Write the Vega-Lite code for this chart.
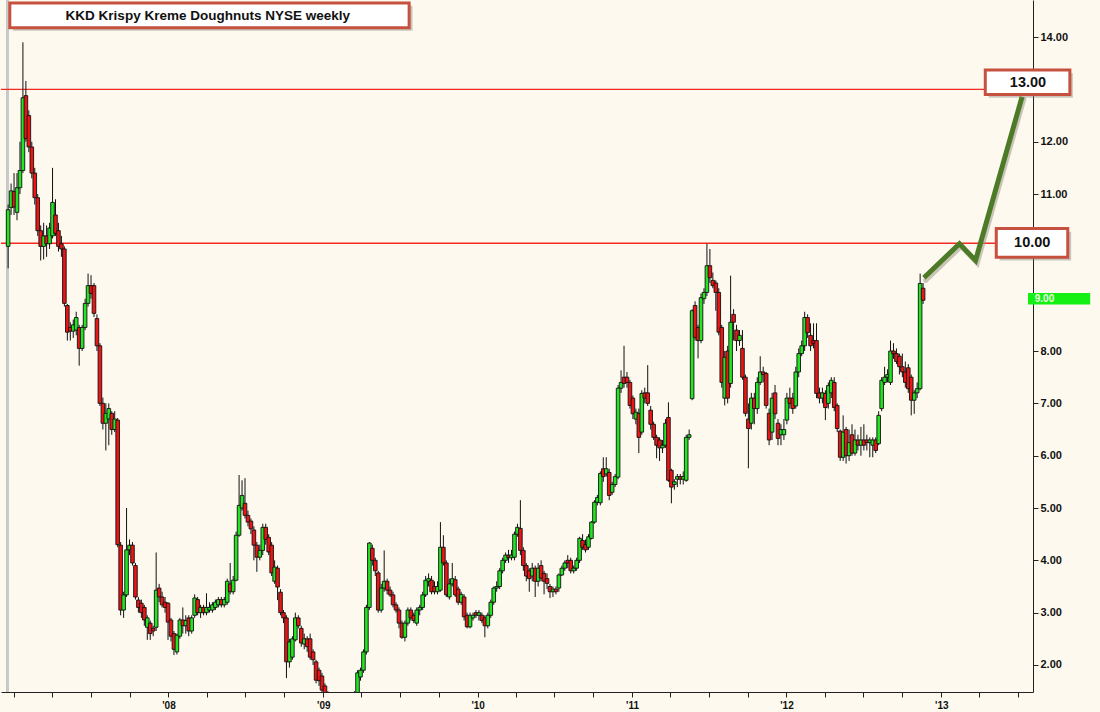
{
"$schema": "https://vega.github.io/schema/vega-lite/v6.json",
"width": 1032, "height": 692,
"autosize": {"type": "none"},
"padding": {"left": 1, "top": 0, "right": 67, "bottom": 20},
"background": "#fdf9ee",
"config": {"view": {"stroke": null}, "font": "Liberation Sans"},
"datasets": {
"k": [
{"d":"2006-12-18","o":10.0,"h":10.8,"l":9.58,"c":10.7},
{"d":"2006-12-25","o":10.74,"h":11.2,"l":10.6,"c":11.06},
{"d":"2007-01-01","o":11.05,"h":11.4,"l":10.6,"c":10.75},
{"d":"2007-01-08","o":10.65,"h":11.4,"l":10.5,"c":11.12},
{"d":"2007-01-15","o":11.12,"h":12.0,"l":11.0,"c":11.45},
{"d":"2007-01-22","o":11.45,"h":13.9,"l":11.4,"c":12.84},
{"d":"2007-01-29","o":12.88,"h":13.16,"l":12.0,"c":12.06},
{"d":"2007-02-05","o":12.5,"h":12.6,"l":11.8,"c":11.9},
{"d":"2007-02-12","o":11.9,"h":12.0,"l":11.3,"c":11.4},
{"d":"2007-02-19","o":11.4,"h":11.5,"l":10.8,"c":10.93},
{"d":"2007-02-26","o":10.93,"h":11.0,"l":10.2,"c":10.3},
{"d":"2007-03-05","o":10.3,"h":10.4,"l":9.73,"c":10.0},
{"d":"2007-03-12","o":10.0,"h":10.45,"l":9.75,"c":10.2},
{"d":"2007-03-19","o":10.2,"h":10.4,"l":9.8,"c":10.05},
{"d":"2007-03-26","o":10.05,"h":10.45,"l":9.95,"c":10.35},
{"d":"2007-04-02","o":10.2,"h":11.5,"l":10.15,"c":10.84},
{"d":"2007-04-09","o":10.6,"h":10.9,"l":10.2,"c":10.25},
{"d":"2007-04-16","o":10.3,"h":10.45,"l":9.9,"c":10.0},
{"d":"2007-04-23","o":10.05,"h":10.2,"l":9.8,"c":9.95},
{"d":"2007-04-30","o":9.95,"h":10.0,"l":8.85,"c":8.91},
{"d":"2007-05-07","o":8.87,"h":8.9,"l":8.2,"c":8.36},
{"d":"2007-05-14","o":8.45,"h":8.55,"l":8.2,"c":8.38},
{"d":"2007-05-21","o":8.38,"h":8.6,"l":8.25,"c":8.5},
{"d":"2007-05-28","o":8.4,"h":8.75,"l":8.3,"c":8.64},
{"d":"2007-06-04","o":8.45,"h":8.5,"l":7.72,"c":8.05},
{"d":"2007-06-11","o":8.05,"h":8.5,"l":8.0,"c":8.45},
{"d":"2007-06-18","o":8.45,"h":9.0,"l":8.4,"c":8.91},
{"d":"2007-06-25","o":8.91,"h":9.48,"l":8.85,"c":9.25},
{"d":"2007-07-02","o":9.25,"h":9.45,"l":9.0,"c":9.1},
{"d":"2007-07-09","o":9.25,"h":9.3,"l":8.65,"c":8.72},
{"d":"2007-07-16","o":8.62,"h":8.7,"l":8.0,"c":8.1},
{"d":"2007-07-23","o":8.1,"h":8.15,"l":6.95,"c":7.0},
{"d":"2007-07-30","o":7.0,"h":7.11,"l":6.5,"c":6.62},
{"d":"2007-08-06","o":6.62,"h":7.0,"l":6.1,"c":6.81},
{"d":"2007-08-13","o":6.7,"h":7.0,"l":6.2,"c":6.9},
{"d":"2007-08-20","o":6.81,"h":6.85,"l":6.4,"c":6.5},
{"d":"2007-08-27","o":6.5,"h":6.85,"l":6.45,"c":6.7},
{"d":"2007-09-03","o":6.68,"h":6.72,"l":4.25,"c":4.3},
{"d":"2007-09-10","o":4.29,"h":4.35,"l":2.95,"c":3.05},
{"d":"2007-09-17","o":3.05,"h":3.4,"l":2.9,"c":3.34},
{"d":"2007-09-24","o":3.34,"h":5.0,"l":3.3,"c":4.2},
{"d":"2007-10-01","o":4.2,"h":4.4,"l":4.1,"c":4.29},
{"d":"2007-10-08","o":4.29,"h":4.35,"l":3.9,"c":3.95},
{"d":"2007-10-15","o":3.9,"h":3.95,"l":3.25,"c":3.3},
{"d":"2007-10-22","o":3.24,"h":3.3,"l":3.0,"c":3.1},
{"d":"2007-10-29","o":3.18,"h":3.25,"l":2.9,"c":3.0},
{"d":"2007-11-05","o":3.1,"h":3.15,"l":2.75,"c":2.86},
{"d":"2007-11-12","o":2.72,"h":2.95,"l":2.48,"c":2.9},
{"d":"2007-11-19","o":2.8,"h":2.85,"l":2.48,"c":2.6},
{"d":"2007-11-26","o":2.7,"h":2.75,"l":2.55,"c":2.65},
{"d":"2007-12-03","o":2.72,"h":4.15,"l":2.65,"c":3.43},
{"d":"2007-12-10","o":3.47,"h":3.55,"l":3.2,"c":3.3},
{"d":"2007-12-17","o":3.3,"h":3.4,"l":3.1,"c":3.15},
{"d":"2007-12-24","o":3.2,"h":3.3,"l":3.0,"c":3.1},
{"d":"2007-12-31","o":3.18,"h":3.2,"l":2.48,"c":2.82},
{"d":"2008-01-07","o":2.86,"h":2.9,"l":2.45,"c":2.55},
{"d":"2008-01-14","o":2.6,"h":2.65,"l":2.19,"c":2.3},
{"d":"2008-01-21","o":2.25,"h":2.6,"l":2.2,"c":2.57},
{"d":"2008-01-28","o":2.55,"h":2.9,"l":2.5,"c":2.86},
{"d":"2008-02-04","o":2.86,"h":3.1,"l":2.6,"c":2.75},
{"d":"2008-02-11","o":2.75,"h":2.95,"l":2.6,"c":2.85},
{"d":"2008-02-18","o":2.9,"h":2.95,"l":2.55,"c":2.65},
{"d":"2008-02-25","o":2.65,"h":2.95,"l":2.6,"c":2.9},
{"d":"2008-03-03","o":2.95,"h":3.35,"l":2.9,"c":3.28},
{"d":"2008-03-10","o":3.25,"h":3.3,"l":2.95,"c":3.0},
{"d":"2008-03-17","o":3.0,"h":3.15,"l":2.9,"c":3.1},
{"d":"2008-03-24","o":3.1,"h":3.15,"l":2.95,"c":3.0},
{"d":"2008-03-31","o":3.0,"h":3.37,"l":2.95,"c":3.1},
{"d":"2008-04-07","o":3.05,"h":3.2,"l":3.0,"c":3.1},
{"d":"2008-04-14","o":3.05,"h":3.2,"l":3.0,"c":3.15},
{"d":"2008-04-21","o":3.1,"h":3.25,"l":3.05,"c":3.2},
{"d":"2008-04-28","o":3.15,"h":3.3,"l":3.1,"c":3.25},
{"d":"2008-05-05","o":3.25,"h":3.3,"l":3.1,"c":3.15},
{"d":"2008-05-12","o":3.15,"h":3.3,"l":3.1,"c":3.25},
{"d":"2008-05-19","o":3.2,"h":3.65,"l":3.15,"c":3.6},
{"d":"2008-05-26","o":3.55,"h":3.95,"l":3.35,"c":3.4},
{"d":"2008-06-02","o":3.4,"h":3.7,"l":3.35,"c":3.62},
{"d":"2008-06-09","o":3.62,"h":4.55,"l":3.6,"c":4.48},
{"d":"2008-06-16","o":4.48,"h":5.63,"l":4.45,"c":5.05},
{"d":"2008-06-23","o":5.0,"h":5.53,"l":4.95,"c":5.24},
{"d":"2008-06-30","o":5.09,"h":5.57,"l":4.8,"c":4.86},
{"d":"2008-07-07","o":4.86,"h":4.95,"l":4.65,"c":4.73},
{"d":"2008-07-14","o":4.75,"h":4.8,"l":4.5,"c":4.6},
{"d":"2008-07-21","o":4.58,"h":4.65,"l":4.0,"c":4.29},
{"d":"2008-07-28","o":4.29,"h":4.35,"l":3.78,"c":4.06},
{"d":"2008-08-04","o":4.06,"h":4.3,"l":4.0,"c":4.19},
{"d":"2008-08-11","o":4.19,"h":4.7,"l":4.1,"c":4.63},
{"d":"2008-08-18","o":4.63,"h":4.7,"l":4.3,"c":4.4},
{"d":"2008-08-25","o":4.44,"h":4.5,"l":4.1,"c":4.16},
{"d":"2008-09-01","o":4.29,"h":4.35,"l":3.7,"c":3.76},
{"d":"2008-09-08","o":3.6,"h":4.0,"l":3.55,"c":3.87},
{"d":"2008-09-15","o":3.85,"h":3.9,"l":3.24,"c":3.49},
{"d":"2008-09-22","o":3.39,"h":3.45,"l":2.95,"c":3.0},
{"d":"2008-09-29","o":3.0,"h":3.05,"l":2.8,"c":2.9},
{"d":"2008-10-06","o":2.9,"h":2.95,"l":1.75,"c":2.06},
{"d":"2008-10-13","o":2.06,"h":2.5,"l":1.95,"c":2.44},
{"d":"2008-10-20","o":2.15,"h":2.55,"l":2.1,"c":2.5},
{"d":"2008-10-27","o":2.48,"h":3.0,"l":2.45,"c":2.9},
{"d":"2008-11-03","o":2.9,"h":2.95,"l":2.7,"c":2.75},
{"d":"2008-11-10","o":2.7,"h":2.75,"l":2.35,"c":2.42},
{"d":"2008-11-17","o":2.4,"h":2.6,"l":2.3,"c":2.5},
{"d":"2008-11-24","o":2.5,"h":2.55,"l":2.25,"c":2.35},
{"d":"2008-12-01","o":2.5,"h":2.6,"l":2.1,"c":2.15},
{"d":"2008-12-08","o":2.25,"h":2.3,"l":2.0,"c":2.1},
{"d":"2008-12-15","o":2.06,"h":2.1,"l":1.65,"c":1.71},
{"d":"2008-12-22","o":1.9,"h":1.95,"l":1.6,"c":1.7},
{"d":"2008-12-29","o":1.79,"h":1.85,"l":1.45,"c":1.52},
{"d":"2009-01-05","o":1.6,"h":1.65,"l":1.4,"c":1.45},
{"d":"2009-01-12","o":1.45,"h":1.5,"l":1.25,"c":1.3},
{"d":"2009-01-19","o":1.3,"h":1.4,"l":1.2,"c":1.25},
{"d":"2009-01-26","o":1.25,"h":1.35,"l":1.2,"c":1.3},
{"d":"2009-02-02","o":1.3,"h":1.35,"l":1.15,"c":1.2},
{"d":"2009-02-09","o":1.2,"h":1.3,"l":1.15,"c":1.25},
{"d":"2009-02-16","o":1.25,"h":1.3,"l":1.1,"c":1.15},
{"d":"2009-02-23","o":1.15,"h":1.2,"l":1.05,"c":1.1},
{"d":"2009-03-02","o":1.1,"h":1.2,"l":1.05,"c":1.15},
{"d":"2009-03-09","o":1.15,"h":1.35,"l":1.1,"c":1.3},
{"d":"2009-03-16","o":1.3,"h":1.5,"l":1.25,"c":1.45},
{"d":"2009-03-23","o":1.45,"h":1.9,"l":1.4,"c":1.85},
{"d":"2009-03-30","o":1.77,"h":1.95,"l":1.7,"c":1.9},
{"d":"2009-04-06","o":1.9,"h":2.3,"l":1.85,"c":2.25},
{"d":"2009-04-13","o":2.25,"h":3.15,"l":2.2,"c":3.1},
{"d":"2009-04-20","o":3.1,"h":4.35,"l":3.05,"c":4.33},
{"d":"2009-04-27","o":4.23,"h":4.3,"l":3.9,"c":4.0},
{"d":"2009-05-04","o":4.0,"h":4.05,"l":3.7,"c":3.8},
{"d":"2009-05-11","o":3.76,"h":3.8,"l":3.0,"c":3.05},
{"d":"2009-05-18","o":3.05,"h":3.55,"l":3.0,"c":3.47},
{"d":"2009-05-25","o":3.47,"h":4.19,"l":3.4,"c":3.6},
{"d":"2009-06-01","o":3.6,"h":3.65,"l":3.35,"c":3.43},
{"d":"2009-06-08","o":3.43,"h":3.5,"l":3.3,"c":3.34},
{"d":"2009-06-15","o":3.34,"h":3.4,"l":3.1,"c":3.15},
{"d":"2009-06-22","o":3.15,"h":3.2,"l":3.0,"c":3.05},
{"d":"2009-06-29","o":3.05,"h":3.1,"l":2.7,"c":2.8},
{"d":"2009-07-06","o":2.8,"h":2.85,"l":2.5,"c":2.53},
{"d":"2009-07-13","o":2.53,"h":2.85,"l":2.45,"c":2.8},
{"d":"2009-07-20","o":2.8,"h":3.1,"l":2.75,"c":3.05},
{"d":"2009-07-27","o":3.05,"h":3.1,"l":2.85,"c":2.9},
{"d":"2009-08-03","o":2.95,"h":3.0,"l":2.8,"c":2.85},
{"d":"2009-08-10","o":2.8,"h":3.1,"l":2.75,"c":3.05},
{"d":"2009-08-17","o":3.05,"h":3.15,"l":2.95,"c":3.1},
{"d":"2009-08-24","o":3.1,"h":3.4,"l":3.05,"c":3.34},
{"d":"2009-08-31","o":3.34,"h":3.7,"l":3.3,"c":3.62},
{"d":"2009-09-07","o":3.6,"h":3.75,"l":3.5,"c":3.65},
{"d":"2009-09-14","o":3.62,"h":3.7,"l":3.35,"c":3.4},
{"d":"2009-09-21","o":3.5,"h":3.6,"l":3.35,"c":3.4},
{"d":"2009-09-28","o":3.4,"h":3.6,"l":3.35,"c":3.5},
{"d":"2009-10-05","o":3.43,"h":4.73,"l":3.4,"c":4.25},
{"d":"2009-10-12","o":4.25,"h":4.48,"l":3.9,"c":3.95},
{"d":"2009-10-19","o":3.95,"h":4.0,"l":3.3,"c":3.34},
{"d":"2009-10-26","o":3.3,"h":3.65,"l":3.25,"c":3.55},
{"d":"2009-11-02","o":3.55,"h":3.95,"l":3.5,"c":3.65},
{"d":"2009-11-09","o":3.63,"h":3.7,"l":3.3,"c":3.34},
{"d":"2009-11-16","o":3.45,"h":3.5,"l":3.15,"c":3.2},
{"d":"2009-11-23","o":3.2,"h":3.4,"l":3.15,"c":3.35},
{"d":"2009-11-30","o":3.3,"h":3.35,"l":2.85,"c":2.92},
{"d":"2009-12-07","o":2.95,"h":3.0,"l":2.7,"c":2.73},
{"d":"2009-12-14","o":2.73,"h":3.0,"l":2.7,"c":2.95},
{"d":"2009-12-21","o":2.9,"h":3.0,"l":2.85,"c":2.95},
{"d":"2009-12-28","o":3.0,"h":3.05,"l":2.9,"c":2.95},
{"d":"2010-01-04","o":2.95,"h":3.05,"l":2.85,"c":3.0},
{"d":"2010-01-11","o":2.95,"h":3.0,"l":2.8,"c":2.85},
{"d":"2010-01-18","o":2.9,"h":2.95,"l":2.53,"c":2.75},
{"d":"2010-01-25","o":2.75,"h":3.0,"l":2.7,"c":2.95},
{"d":"2010-02-01","o":2.95,"h":3.25,"l":2.9,"c":3.2},
{"d":"2010-02-08","o":3.2,"h":3.5,"l":3.15,"c":3.47},
{"d":"2010-02-15","o":3.47,"h":3.6,"l":3.4,"c":3.5},
{"d":"2010-02-22","o":3.5,"h":3.85,"l":3.45,"c":3.8},
{"d":"2010-03-01","o":3.8,"h":4.05,"l":3.75,"c":4.0},
{"d":"2010-03-08","o":4.0,"h":4.15,"l":3.95,"c":4.1},
{"d":"2010-03-15","o":4.1,"h":4.2,"l":3.95,"c":4.05},
{"d":"2010-03-22","o":4.05,"h":4.2,"l":4.0,"c":4.1},
{"d":"2010-03-29","o":4.06,"h":4.55,"l":4.0,"c":4.5},
{"d":"2010-04-05","o":4.5,"h":4.7,"l":4.45,"c":4.63},
{"d":"2010-04-12","o":4.61,"h":5.15,"l":4.1,"c":4.19},
{"d":"2010-04-19","o":4.19,"h":4.25,"l":3.8,"c":3.9},
{"d":"2010-04-26","o":3.9,"h":3.95,"l":3.6,"c":3.7},
{"d":"2010-05-03","o":3.8,"h":3.85,"l":3.4,"c":3.65},
{"d":"2010-05-10","o":3.7,"h":3.95,"l":3.6,"c":3.85},
{"d":"2010-05-17","o":3.85,"h":3.9,"l":3.3,"c":3.6},
{"d":"2010-05-24","o":3.6,"h":3.95,"l":3.5,"c":3.85},
{"d":"2010-05-31","o":3.9,"h":4.0,"l":3.6,"c":3.66},
{"d":"2010-06-07","o":3.75,"h":3.8,"l":3.35,"c":3.6},
{"d":"2010-06-14","o":3.65,"h":3.75,"l":3.45,"c":3.56},
{"d":"2010-06-21","o":3.5,"h":3.55,"l":3.28,"c":3.4},
{"d":"2010-06-28","o":3.4,"h":3.5,"l":3.3,"c":3.45},
{"d":"2010-07-05","o":3.45,"h":3.5,"l":3.35,"c":3.4},
{"d":"2010-07-12","o":3.47,"h":3.75,"l":3.4,"c":3.72},
{"d":"2010-07-19","o":3.72,"h":3.9,"l":3.7,"c":3.85},
{"d":"2010-07-26","o":3.85,"h":4.0,"l":3.8,"c":3.95},
{"d":"2010-08-02","o":4.0,"h":4.1,"l":3.85,"c":3.95},
{"d":"2010-08-09","o":4.0,"h":4.05,"l":3.75,"c":3.8},
{"d":"2010-08-16","o":3.8,"h":3.9,"l":3.75,"c":3.85},
{"d":"2010-08-23","o":3.85,"h":4.05,"l":3.8,"c":4.0},
{"d":"2010-08-30","o":4.0,"h":4.45,"l":3.95,"c":4.42},
{"d":"2010-09-06","o":4.38,"h":4.5,"l":4.2,"c":4.25},
{"d":"2010-09-13","o":4.3,"h":4.4,"l":4.15,"c":4.2},
{"d":"2010-09-20","o":4.25,"h":4.5,"l":4.2,"c":4.45},
{"d":"2010-09-27","o":4.42,"h":4.75,"l":4.4,"c":4.73},
{"d":"2010-10-04","o":4.73,"h":5.15,"l":4.7,"c":5.11},
{"d":"2010-10-11","o":5.11,"h":5.25,"l":5.05,"c":5.2},
{"d":"2010-10-18","o":5.1,"h":5.7,"l":5.05,"c":5.66},
{"d":"2010-10-25","o":5.75,"h":5.97,"l":5.5,"c":5.6},
{"d":"2010-11-01","o":5.65,"h":5.97,"l":5.6,"c":5.75},
{"d":"2010-11-08","o":5.68,"h":5.75,"l":5.15,"c":5.24},
{"d":"2010-11-15","o":5.3,"h":5.5,"l":5.25,"c":5.45},
{"d":"2010-11-22","o":5.45,"h":5.65,"l":5.4,"c":5.6},
{"d":"2010-11-29","o":5.59,"h":7.35,"l":5.55,"c":7.29},
{"d":"2010-12-06","o":7.29,"h":7.63,"l":7.2,"c":7.4},
{"d":"2010-12-13","o":7.5,"h":8.1,"l":7.3,"c":7.38},
{"d":"2010-12-20","o":7.5,"h":7.6,"l":7.3,"c":7.4},
{"d":"2010-12-27","o":7.4,"h":7.45,"l":6.9,"c":6.96},
{"d":"2011-01-03","o":7.1,"h":7.15,"l":6.7,"c":6.8},
{"d":"2011-01-10","o":6.7,"h":6.9,"l":6.6,"c":6.83},
{"d":"2011-01-17","o":6.81,"h":6.9,"l":6.05,"c":6.35},
{"d":"2011-01-24","o":6.45,"h":7.25,"l":6.4,"c":7.19},
{"d":"2011-01-31","o":7.2,"h":7.3,"l":7.0,"c":7.1},
{"d":"2011-02-07","o":7.2,"h":7.73,"l":6.95,"c":7.0},
{"d":"2011-02-14","o":6.87,"h":6.95,"l":6.5,"c":6.6},
{"d":"2011-02-21","o":6.6,"h":6.65,"l":6.3,"c":6.35},
{"d":"2011-02-28","o":6.35,"h":6.4,"l":5.95,"c":6.2},
{"d":"2011-03-07","o":6.3,"h":6.35,"l":5.9,"c":6.15},
{"d":"2011-03-14","o":6.15,"h":6.3,"l":6.05,"c":6.2},
{"d":"2011-03-21","o":6.2,"h":6.7,"l":6.15,"c":6.62},
{"d":"2011-03-28","o":6.73,"h":7.02,"l":5.5,"c":5.53},
{"d":"2011-04-04","o":5.72,"h":5.75,"l":5.09,"c":5.4},
{"d":"2011-04-11","o":5.45,"h":5.55,"l":5.35,"c":5.5},
{"d":"2011-04-18","o":5.55,"h":5.65,"l":5.4,"c":5.6},
{"d":"2011-04-25","o":5.6,"h":5.65,"l":5.45,"c":5.55},
{"d":"2011-05-02","o":5.55,"h":5.7,"l":5.45,"c":5.6},
{"d":"2011-05-09","o":5.53,"h":6.4,"l":5.5,"c":6.35},
{"d":"2011-05-16","o":6.35,"h":6.5,"l":6.3,"c":6.4},
{"d":"2011-05-23","o":7.09,"h":8.8,"l":7.06,"c":8.77},
{"d":"2011-05-30","o":8.87,"h":8.95,"l":8.2,"c":8.26},
{"d":"2011-06-06","o":8.45,"h":8.5,"l":7.86,"c":8.2},
{"d":"2011-06-13","o":8.2,"h":9.1,"l":8.15,"c":9.02},
{"d":"2011-06-20","o":9.0,"h":9.2,"l":8.9,"c":9.12},
{"d":"2011-06-27","o":9.12,"h":10.05,"l":9.05,"c":9.63},
{"d":"2011-07-04","o":9.63,"h":9.95,"l":9.3,"c":9.4},
{"d":"2011-07-11","o":9.35,"h":9.5,"l":9.2,"c":9.25},
{"d":"2011-07-18","o":9.3,"h":9.35,"l":8.77,"c":9.12},
{"d":"2011-07-25","o":9.12,"h":9.2,"l":8.3,"c":8.36},
{"d":"2011-08-01","o":8.45,"h":8.5,"l":7.3,"c":7.4},
{"d":"2011-08-08","o":7.1,"h":8.0,"l":6.96,"c":7.88},
{"d":"2011-08-15","o":8.0,"h":8.1,"l":7.0,"c":7.1},
{"d":"2011-08-22","o":7.38,"h":9.44,"l":7.3,"c":8.55},
{"d":"2011-08-29","o":8.7,"h":8.8,"l":8.2,"c":8.55},
{"d":"2011-09-05","o":8.4,"h":8.5,"l":8.0,"c":8.2},
{"d":"2011-09-12","o":8.2,"h":8.4,"l":8.1,"c":8.3},
{"d":"2011-09-19","o":8.05,"h":8.4,"l":7.45,"c":7.5},
{"d":"2011-09-26","o":7.5,"h":7.55,"l":6.75,"c":6.81},
{"d":"2011-10-03","o":6.7,"h":7.0,"l":5.76,"c":6.52},
{"d":"2011-10-10","o":6.62,"h":7.2,"l":6.5,"c":7.1},
{"d":"2011-10-17","o":7.1,"h":7.2,"l":6.6,"c":6.9},
{"d":"2011-10-24","o":6.9,"h":7.5,"l":6.8,"c":7.4},
{"d":"2011-10-31","o":7.4,"h":7.9,"l":7.35,"c":7.6},
{"d":"2011-11-07","o":7.6,"h":7.7,"l":7.4,"c":7.55},
{"d":"2011-11-14","o":7.57,"h":7.6,"l":6.9,"c":6.96},
{"d":"2011-11-21","o":6.81,"h":6.9,"l":6.2,"c":6.3},
{"d":"2011-11-28","o":6.45,"h":7.2,"l":6.3,"c":7.1},
{"d":"2011-12-05","o":7.2,"h":7.35,"l":6.7,"c":6.8},
{"d":"2011-12-12","o":6.62,"h":6.7,"l":6.2,"c":6.33},
{"d":"2011-12-19","o":6.4,"h":6.6,"l":6.2,"c":6.5},
{"d":"2011-12-26","o":6.4,"h":6.7,"l":6.3,"c":6.5},
{"d":"2012-01-02","o":6.68,"h":7.2,"l":6.6,"c":7.1},
{"d":"2012-01-09","o":7.1,"h":7.3,"l":6.9,"c":7.0},
{"d":"2012-01-16","o":7.1,"h":7.2,"l":6.8,"c":6.9},
{"d":"2012-01-23","o":6.95,"h":7.7,"l":6.9,"c":7.6},
{"d":"2012-01-30","o":7.6,"h":8.05,"l":7.5,"c":7.95},
{"d":"2012-02-06","o":7.95,"h":8.2,"l":7.9,"c":8.1},
{"d":"2012-02-13","o":8.1,"h":8.75,"l":8.0,"c":8.64},
{"d":"2012-02-20","o":8.64,"h":8.7,"l":8.25,"c":8.35},
{"d":"2012-02-27","o":8.3,"h":8.53,"l":8.0,"c":8.1},
{"d":"2012-03-05","o":8.2,"h":8.53,"l":8.05,"c":8.15},
{"d":"2012-03-12","o":8.2,"h":8.53,"l":7.1,"c":7.19},
{"d":"2012-03-19","o":7.2,"h":7.3,"l":7.0,"c":7.1},
{"d":"2012-03-26","o":7.1,"h":7.3,"l":7.0,"c":7.2},
{"d":"2012-04-02","o":7.19,"h":7.25,"l":6.68,"c":6.92},
{"d":"2012-04-09","o":7.0,"h":7.4,"l":6.9,"c":7.34},
{"d":"2012-04-16","o":7.2,"h":7.5,"l":7.1,"c":7.44},
{"d":"2012-04-23","o":7.4,"h":7.5,"l":6.85,"c":6.92},
{"d":"2012-04-30","o":6.96,"h":7.0,"l":6.45,"c":6.52},
{"d":"2012-05-07","o":6.47,"h":6.5,"l":5.9,"c":5.97},
{"d":"2012-05-14","o":5.97,"h":6.77,"l":5.9,"c":6.45},
{"d":"2012-05-21","o":6.5,"h":6.55,"l":5.85,"c":6.0},
{"d":"2012-05-28","o":6.0,"h":6.5,"l":5.9,"c":6.25},
{"d":"2012-06-04","o":6.4,"h":6.6,"l":6.0,"c":6.05},
{"d":"2012-06-11","o":6.05,"h":6.5,"l":6.0,"c":6.3},
{"d":"2012-06-18","o":6.3,"h":6.4,"l":6.1,"c":6.2},
{"d":"2012-06-25","o":6.2,"h":6.55,"l":6.0,"c":6.3},
{"d":"2012-07-02","o":6.3,"h":6.6,"l":6.1,"c":6.2},
{"d":"2012-07-09","o":6.3,"h":6.4,"l":6.1,"c":6.25},
{"d":"2012-07-16","o":6.25,"h":6.35,"l":5.97,"c":6.3},
{"d":"2012-07-23","o":6.2,"h":6.35,"l":5.97,"c":6.3},
{"d":"2012-07-30","o":6.3,"h":6.35,"l":6.05,"c":6.1},
{"d":"2012-08-06","o":6.23,"h":6.85,"l":6.2,"c":6.77},
{"d":"2012-08-13","o":6.9,"h":7.5,"l":6.85,"c":7.44},
{"d":"2012-08-20","o":7.4,"h":7.7,"l":7.35,"c":7.5},
{"d":"2012-08-27","o":7.5,"h":7.65,"l":7.4,"c":7.55},
{"d":"2012-09-03","o":7.4,"h":8.2,"l":7.35,"c":8.0},
{"d":"2012-09-10","o":8.0,"h":8.15,"l":7.85,"c":7.95},
{"d":"2012-09-17","o":7.95,"h":8.05,"l":7.75,"c":7.8},
{"d":"2012-09-24","o":7.9,"h":7.95,"l":7.55,"c":7.7},
{"d":"2012-10-01","o":7.7,"h":7.95,"l":7.5,"c":7.6},
{"d":"2012-10-08","o":7.6,"h":7.8,"l":7.3,"c":7.4},
{"d":"2012-10-15","o":7.68,"h":7.75,"l":7.2,"c":7.28},
{"d":"2012-10-22","o":7.5,"h":7.55,"l":6.77,"c":7.06},
{"d":"2012-10-29","o":7.06,"h":7.25,"l":6.8,"c":7.2},
{"d":"2012-11-05","o":7.2,"h":7.4,"l":7.1,"c":7.28},
{"d":"2012-11-12","o":7.28,"h":9.48,"l":7.25,"c":9.29},
{"d":"2012-11-19","o":9.2,"h":9.3,"l":8.9,"c":8.97}
]
},
"layer": [
{
"data": {"values": [{"x1": "2006-12-13", "x2": "2006-12-20"}]},
"mark": {"type": "rect", "fill": "#c8c8c8", "clip": false},
"encoding": {"x": {"field": "x1", "type": "temporal"}, "x2": {"field": "x2"}, "y": {"datum": 1.484, "type": "quantitative"}, "y2": {"datum": 14.708}}
},
{
"data": {"values": [{"v": 13.0}, {"v": 10.06}]},
"mark": {"type": "rule", "color": "#f52a22", "strokeWidth": 1.3},
"encoding": {"y": {"field": "v", "type": "quantitative"}}
},
{
"data": {"name": "k"},
"mark": {"type": "rule", "color": "#111111", "strokeWidth": 1, "clip": true},
"encoding": {
"x": {"field": "d", "type": "temporal",
"scale": {"type": "utc", "domain": [{"year": 2006, "month": 12, "date": 13, "utc": true}, {"year": 2013, "month": 7, "date": 25, "utc": true}]},
"axis": {"title": null, "grid": false, "tickCount": {"interval": "month", "step": 3},
"labelExpr": "utcFormat(datum.value, '%m') == '01' && utcFormat(datum.value, '%Y') != '2007' ? \"'\" + utcFormat(datum.value, '%y') : ''",
"labelOverlap": false, "labelFlush": false, "labelBound": false,
"labelFont": "Liberation Sans", "labelFontWeight": "bold", "labelFontSize": 10, "labelColor": "#111111",
"tickSize": 5, "tickColor": "#222222", "domainColor": "#222222", "labelPadding": 3}},
"y": {"field": "l", "type": "quantitative",
"scale": {"domain": [1.484, 14.708], "nice": false, "zero": false},
"axis": {"orient": "right", "title": null, "grid": false, "values": [2, 3, 4, 5, 6, 7, 8, 11, 12, 14], "format": ".2f",
"labelFont": "Liberation Sans", "labelFontWeight": "bold", "labelFontSize": 11, "labelColor": "#111111",
"tickSize": 5, "tickColor": "#222222", "domainColor": "#222222", "labelPadding": 2}},
"y2": {"field": "h"}
}
},
{
"data": {"name": "k"},
"mark": {"type": "bar", "width": 3.6, "stroke": "#111111", "strokeWidth": 0.9, "clip": true},
"encoding": {
"x": {"field": "d", "type": "temporal"},
"y": {"field": "o", "type": "quantitative"},
"y2": {"field": "c"},
"fill": {"condition": {"test": "datum.c >= datum.o", "value": "#22e622"}, "value": "#ec1414"}
}
},
{
"data": {"values": [
{"d": "2012-11-25", "v": 9.35, "k": 1},
{"d": "2013-02-17", "v": 10.0, "k": 2},
{"d": "2013-03-27", "v": 9.68, "k": 3},
{"d": "2013-07-15", "v": 12.81, "k": 4}
]},
"mark": {"type": "line", "color": "#9c9a88", "strokeWidth": 5, "opacity": 0.55, "strokeCap": "round", "clip": false},
"encoding": {"x": {"field": "d", "type": "temporal"}, "y": {"field": "v", "type": "quantitative"}, "order": {"field": "k"}}
},
{
"data": {"values": [
{"d": "2012-11-21", "v": 9.40, "k": 1},
{"d": "2013-02-13", "v": 10.05, "k": 2},
{"d": "2013-03-23", "v": 9.73, "k": 3},
{"d": "2013-07-11", "v": 12.86, "k": 4}
]},
"mark": {"type": "line", "color": "#4d7a26", "strokeWidth": 5, "clip": false},
"encoding": {"x": {"field": "d", "type": "temporal"}, "y": {"field": "v", "type": "quantitative"}, "order": {"field": "k"}}
},
{
"data": {"values": [
{"x1": "2013-04-23", "x2": "2013-11-08", "y1": 12.84, "y2": 13.31},
{"x1": "2013-05-19", "x2": "2013-11-04", "y1": 9.73, "y2": 10.28},
{"x1": "2006-12-30", "x2": "2009-07-31", "y1": 14.12, "y2": 14.6}
]},
"mark": {"type": "rect", "color": "#8a8a80", "opacity": 0.45, "clip": false},
"encoding": {"x": {"field": "x1", "type": "temporal"}, "x2": {"field": "x2"}, "y": {"field": "y1", "type": "quantitative"}, "y2": {"field": "y2"}}
},
{
"data": {"values": [
{"x1": "2013-04-15", "x2": "2013-11-01", "y1": 12.9, "y2": 13.37},
{"x1": "2013-05-11", "x2": "2013-10-27", "y1": 9.79, "y2": 10.34},
{"x1": "2006-12-22", "x2": "2009-07-23", "y1": 14.18, "y2": 14.65}
]},
"mark": {"type": "rect", "fill": "#ffffff", "stroke": "#c5513e", "strokeWidth": 3, "clip": false},
"encoding": {"x": {"field": "x1", "type": "temporal"}, "x2": {"field": "x2"}, "y": {"field": "y1", "type": "quantitative"}, "y2": {"field": "y2"}}
},
{
"data": {"values": [
{"x": "2013-07-25", "y": 13.13, "t": "13.00"},
{"x": "2013-08-04", "y": 10.06, "t": "10.00"}
]},
"mark": {"type": "text", "font": "Liberation Sans", "fontWeight": "bold", "fontSize": 14.5, "color": "#111111", "align": "center", "baseline": "middle", "clip": false},
"encoding": {"x": {"field": "x", "type": "temporal"}, "y": {"field": "y", "type": "quantitative"}, "text": {"field": "t"}}
},
{
"data": {"values": [{"x": "2008-04-03", "y": 14.41, "t": "KKD Krispy Kreme Doughnuts NYSE weekly"}]},
"mark": {"type": "text", "font": "Liberation Sans", "fontWeight": "bold", "fontSize": 13.5, "color": "#111111", "align": "center", "baseline": "middle", "clip": false},
"encoding": {"x": {"field": "x", "type": "temporal"}, "y": {"field": "y", "type": "quantitative"}, "text": {"field": "t"}}
},
{
"data": {"values": [{"x1": "2013-07-25", "x2": "2013-12-19", "y1": 8.89, "y2": 9.11}]},
"mark": {"type": "rect", "fill": "#14f014", "clip": false},
"encoding": {"x": {"field": "x1", "type": "temporal"}, "x2": {"field": "x2"}, "y": {"field": "y1", "type": "quantitative"}, "y2": {"field": "y2"}}
},
{
"data": {"values": [{"x": "2013-08-10", "y": 9.0, "t": "9.00"}]},
"mark": {"type": "text", "font": "Liberation Sans", "fontWeight": "bold", "fontSize": 10, "color": "#e9ffe0", "align": "left", "baseline": "middle", "clip": false},
"encoding": {"x": {"field": "x", "type": "temporal"}, "y": {"field": "y", "type": "quantitative"}, "text": {"field": "t"}}
}
]
}
